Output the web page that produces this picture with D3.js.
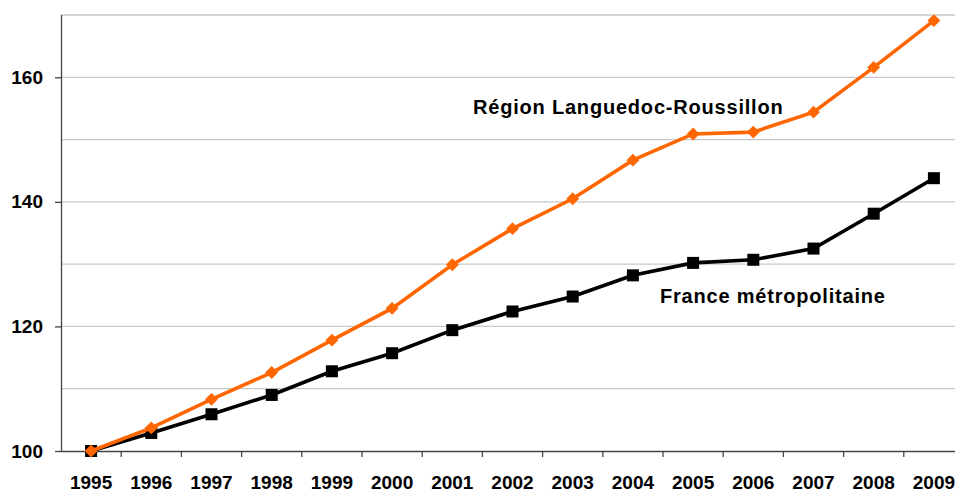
<!DOCTYPE html>
<html>
<head>
<meta charset="utf-8">
<script src="https://cdn.jsdelivr.net/npm/d3@7"></script>
<style>
  body { margin: 0; background: #fff; }
  text { font-family: "Liberation Sans", Arial, sans-serif; font-weight: bold; }
</style>
</head>
<body>
<svg id="chart" width="955" height="492"></svg>
<script>
// data
const years = ['1995','1996','1997','1998','1999','2000','2001','2002','2003','2004','2005','2006','2007','2008','2009'];
const region = [100, 103.7, 108.3, 112.6, 117.8, 122.9, 129.9, 135.7, 140.5, 146.7, 150.9, 151.2, 154.4, 161.6, 169.1];
const france = [100, 102.9, 105.9, 109.0, 112.8, 115.7, 119.4, 122.4, 124.8, 128.2, 130.2, 130.7, 132.5, 138.1, 143.8];
const yTicks = [100, 120, 140, 160];
const gridValues = [110, 120, 130, 140, 150, 160, 170];

const plotLeft = 61, plotBottom = 451, plotTop = 15;
const bandW = 60.2;

const svg = d3.select('#chart');

const x = d3.scaleBand()
  .domain(years)
  .range([plotLeft, plotLeft + bandW * years.length]);

const y = d3.scaleLinear()
  .domain([100, 170])
  .range([plotBottom, plotTop]);

// gridlines
svg.append('g')
  .selectAll('line')
  .data(gridValues)
  .join('line')
  .attr('x1', plotLeft).attr('x2', 955)
  .attr('y1', d => y(d)).attr('y2', d => y(d))
  .attr('stroke', '#c8c8c8')
  .attr('stroke-width', 1.3);

// y axis
const yAxis = svg.append('g')
  .attr('transform', 'translate(' + plotLeft + ',0)')
  .call(d3.axisLeft(y).tickValues(yTicks).tickSize(6).tickPadding(12).tickSizeOuter(0));
yAxis.select('.domain').attr('stroke', '#444').attr('stroke-width', 1.3).attr('d', 'M0.5,' + plotTop + 'V' + plotBottom);
yAxis.selectAll('.tick line').attr('stroke', '#444').attr('stroke-width', 1.3);
yAxis.selectAll('.tick text').attr('font-size', 19).attr('fill', '#000');

// x axis with ticks between categories
const xAxis = svg.append('g')
  .attr('transform', 'translate(0,' + plotBottom + ')');
xAxis.append('line')
  .attr('x1', plotLeft).attr('x2', 955)
  .attr('y1', 0.5).attr('y2', 0.5)
  .attr('stroke', '#444').attr('stroke-width', 1.3);
xAxis.selectAll('.tk')
  .data(years)
  .join('line')
  .attr('class', 'tk')
  .attr('x1', d => x(d) + bandW).attr('x2', d => x(d) + bandW)
  .attr('y1', 0).attr('y2', 6)
  .attr('stroke', '#444').attr('stroke-width', 1.3);
xAxis.selectAll('.lbl')
  .data(years)
  .join('text')
  .attr('class', 'lbl')
  .attr('x', d => x(d) + bandW / 2)
  .attr('y', 38)
  .attr('text-anchor', 'middle')
  .attr('font-size', 19)
  .text(d => d);

const line = d3.line()
  .x((d, i) => x(years[i]) + bandW / 2)
  .y(d => y(d));

// France métropolitaine
svg.append('path')
  .datum(france)
  .attr('d', line)
  .attr('fill', 'none')
  .attr('stroke', '#000')
  .attr('stroke-width', 3.6);
svg.append('g')
  .selectAll('rect')
  .data(france)
  .join('rect')
  .attr('x', (d, i) => x(years[i]) + bandW / 2 - 6)
  .attr('y', d => y(d) - 6)
  .attr('width', 12).attr('height', 12)
  .attr('fill', '#000');

// Région Languedoc-Roussillon
svg.append('path')
  .datum(region)
  .attr('d', line)
  .attr('fill', 'none')
  .attr('stroke', '#ff6600')
  .attr('stroke-width', 3.6);
const diamond = d3.symbol().type(d3.symbolDiamond2).size(105);
svg.append('g')
  .selectAll('path')
  .data(region)
  .join('path')
  .attr('d', diamond)
  .attr('transform', (d, i) => 'translate(' + (x(years[i]) + bandW / 2) + ',' + y(d) + ')')
  .attr('fill', '#ff6600');

// series labels
svg.append('text')
  .attr('x', 473).attr('y', 114)
  .attr('font-size', 20)
  .attr('letter-spacing', 0.8)
  .text('Région Languedoc-Roussillon');
svg.append('text')
  .attr('x', 660).attr('y', 303)
  .attr('font-size', 20)
  .attr('letter-spacing', 0.8)
  .text('France métropolitaine');
</script>
</body>
</html>
